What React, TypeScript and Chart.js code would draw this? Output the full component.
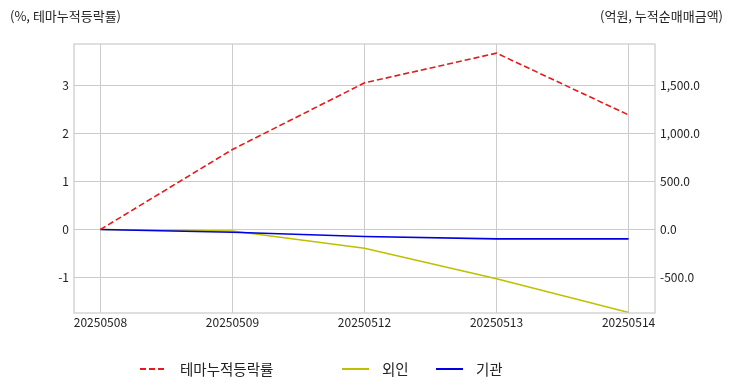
import React, { useEffect, useRef } from "react";
import { Chart, registerables } from "chart.js";

Chart.register(...registerables);

const dates = ["20250508", "20250509", "20250512", "20250513", "20250514"];
const themeReturn = [0, 1.67, 3.06, 3.68, 2.39];
const foreign = [0, -15, -195, -514, -865];
const institution = [0, -28, -73, -97, -97];
const leftTicks = [-1, 0, 1, 2, 3];
const rightTicks = [-500, 0, 500, 1000, 1500];

const labelTheme = "테마누적등락률";
const labelForeign = "외인";
const labelInst = "기관";
const leftTitle = "(%, 테마누적등락률)";
const rightTitle = "(억원, 누적순매매금액)";

const RED = "#e8191b";
const YELLOW = "#bfbf00";
const BLUE = "#0000e0";
const GRID = "#cccccc";
const TEXT = "#222222";
const FONT = '"Noto Sans CJK KR", "Liberation Sans", sans-serif';

const frame = {
  id: "frame",
  afterDatasetsDraw(chart: any) {
    const { ctx, chartArea } = chart;
    ctx.save();
    ctx.strokeStyle = GRID;
    ctx.lineWidth = 1.25;
    ctx.strokeRect(chartArea.left, chartArea.top, chartArea.right - chartArea.left, chartArea.bottom - chartArea.top);
    ctx.restore();
  },
};

export default function App() {
  const ref = useRef<HTMLCanvasElement>(null);
  useEffect(() => {
    if (!ref.current) return;
    const toXY = (arr: number[]) => arr.map((v, i) => ({ x: i, y: v }));
    const chart = new Chart(ref.current, {
      type: "line",
      data: {
        datasets: [
          { label: labelTheme, data: toXY(themeReturn), yAxisID: "y", borderColor: RED, borderWidth: 1.6, borderDash: [6, 3], pointRadius: 0, tension: 0 },
          { label: labelInst, data: toXY(institution), yAxisID: "y1", borderColor: BLUE, borderWidth: 1.6, pointRadius: 0, tension: 0 },
          { label: labelForeign, data: toXY(foreign), yAxisID: "y1", borderColor: YELLOW, borderWidth: 1.6, pointRadius: 0, tension: 0 },
        ],
      },
      options: {
        responsive: false,
        animation: false,
        layout: { padding: { top: 36, left: 0, right: 0, bottom: 0 } },
        plugins: { legend: { display: false }, tooltip: { enabled: false } },
        scales: {
          x: {
            type: "linear",
            min: -0.2,
            max: 4.2,
            afterFit: (s: any) => { s.height = 71; },
            afterBuildTicks: (s: any) => { s.ticks = dates.map((_, i) => ({ value: i })); },
            grid: { color: GRID, drawTicks: false, lineWidth: 1 },
            border: { display: false },
            ticks: { padding: 2, color: TEXT, font: { family: FONT, size: 12 }, maxRotation: 0, callback: (v: any) => dates[v] ?? "" },
          },
          y: {
            position: "left",
            min: -1.742,
            max: 3.871,
            afterFit: (s: any) => { s.width = 66; },
            afterBuildTicks: (s: any) => { s.ticks = leftTicks.map((v) => ({ value: v })); },
            grid: { color: GRID, drawTicks: false, lineWidth: 1 },
            border: { display: false },
            ticks: { padding: 5, color: TEXT, font: { family: FONT, size: 12 }, callback: (v: any) => String(v) },
          },
          y1: {
            position: "right",
            min: -871,
            max: 1936,
            afterFit: (s: any) => { s.width = 69; },
            afterBuildTicks: (s: any) => { s.ticks = rightTicks.map((v) => ({ value: v })); },
            grid: { display: false, drawTicks: false },
            border: { display: false },
            ticks: {
              padding: 5,
              color: TEXT,
              font: { family: FONT, size: 12 },
              callback: (v: any) => Number(v).toLocaleString("en-US", { minimumFractionDigits: 1, maximumFractionDigits: 1 }),
            },
          },
        },
      },
      plugins: [frame],
    } as any);
    return () => chart.destroy();
  }, []);

  const textStyle: React.CSSProperties = { position: "absolute", fontFamily: FONT, fontSize: 13, color: TEXT, lineHeight: "16px", whiteSpace: "nowrap" };
  const legText: React.CSSProperties = { position: "absolute", fontFamily: FONT, fontSize: 14.5, color: TEXT, lineHeight: "18px", top: 352, whiteSpace: "nowrap" };
  const sample = (left: number, color: string, dashed: boolean): React.CSSProperties => ({
    position: "absolute",
    left,
    top: 360,
    width: 27,
    height: 2,
    background: dashed ? `repeating-linear-gradient(to right, ${color} 0 6px, transparent 6px 9px)` : color,
  });

  return (
    <div style={{ position: "relative", width: 716, height: 376 }}>
      <canvas ref={ref} width={716} height={376} style={{ display: "block" }} />
      <div style={{ ...textStyle, left: 2, top: 0 }}>{leftTitle}</div>
      <div style={{ ...textStyle, right: 1, top: 0 }}>{rightTitle}</div>
      <div style={sample(132, RED, true)} />
      <div style={{ ...legText, left: 172 }}>{labelTheme}</div>
      <div style={sample(334, YELLOW, false)} />
      <div style={{ ...legText, left: 374 }}>{labelForeign}</div>
      <div style={sample(428, BLUE, false)} />
      <div style={{ ...legText, left: 468 }}>{labelInst}</div>
    </div>
  );
}
